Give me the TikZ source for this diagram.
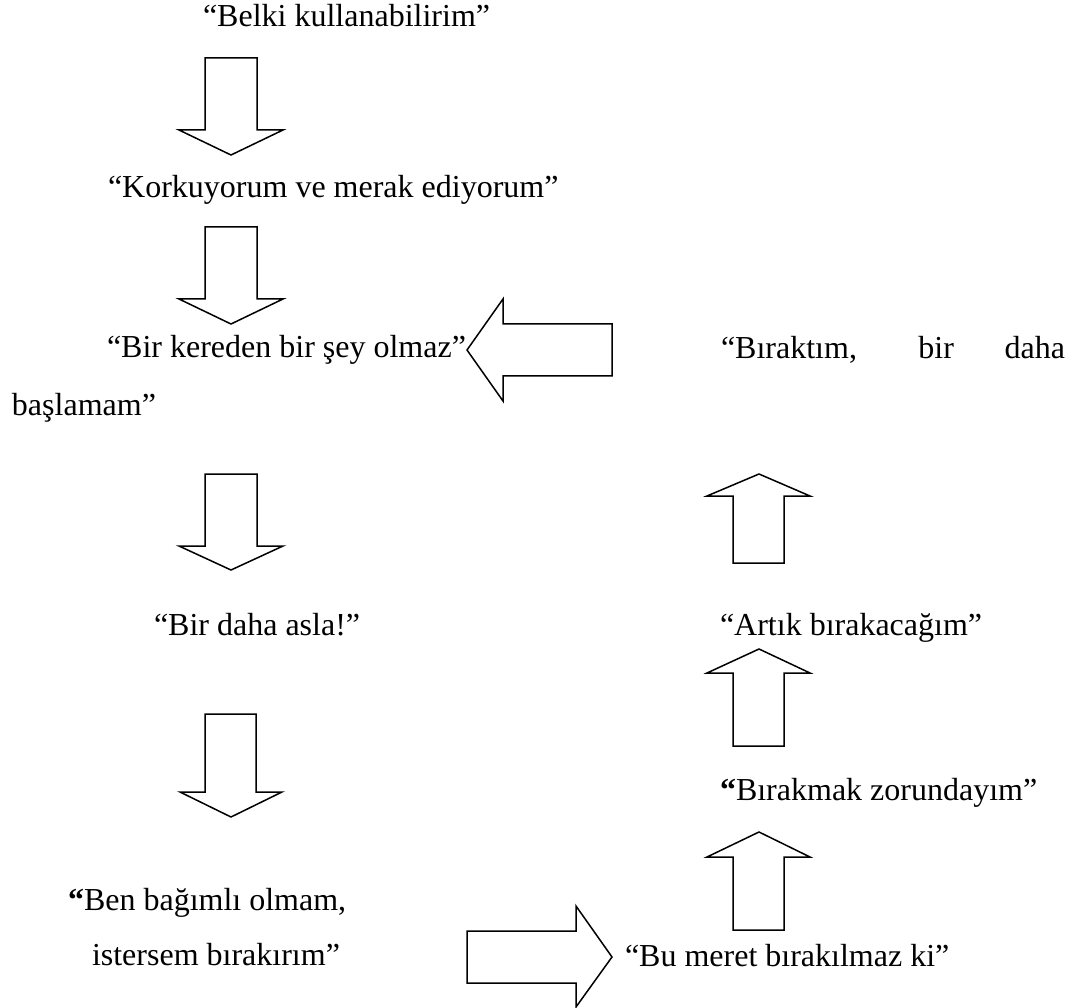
\documentclass[tikz,border=0pt]{standalone}
\usepackage{fontspec}
\setmainfont{Liberation Serif}
\begin{document}
\begin{tikzpicture}[x=1pt,y=-1pt,
  blk/.style={draw=black,line width=1.5pt,fill=white,line join=miter},
  txt/.style={anchor=base west,inner sep=0pt,outer sep=0pt,font=\fontsize{32}{38}\selectfont}]
\useasboundingbox[fill=white] (0,0) rectangle (1074,1008);
% texts
\node[txt] (t1) at (203,27) {“Belki kullanabilirim”};
\node[txt] (t2) at (108,198) {“Korkuyorum ve merak ediyorum”};
\node[txt] (t3) at (107,358) {“Bir kereden bir şey olmaz”};
\node[txt] (t4a) at (721,359) {\makebox[344pt][s]{“Bıraktım, bir daha}};
\node[txt] (t4b) at (12,415) {başlamam”};
\node[txt] (t5) at (154,635) {“Bir daha asla!”};
\node[txt] (t6) at (720,635) {“Artık bırakacağım”};
\node[txt] (t7) at (720,800) {\textbf{“}Bırakmak zorundayım”};
\node[txt] (t8a) at (68,910) {\textbf{“}Ben bağımlı olmam,};
\node[txt] (t8b) at (92,965) {istersem bırakırım”};
\node[txt] (t9) at (625,966) {“Bu meret bırakılmaz ki”};
% block arrows
\draw[blk] (205,58) -- (257,58) -- (257,130) -- (283,130) -- (231,155) -- (179,130) -- (205,130) -- cycle;
\draw[blk] (205,227) -- (257,227) -- (257,299) -- (283,299) -- (231,324) -- (179,299) -- (205,299) -- cycle;
\draw[blk] (612,324) -- (612,376) -- (503,376) -- (503,401) -- (467,350) -- (503,299) -- (503,324) -- cycle;
\draw[blk] (205,474) -- (257,474) -- (257,546) -- (283,546) -- (231,570) -- (179,546) -- (205,546) -- cycle;
\draw[blk] (205,714) -- (256,714) -- (256,792) -- (282,792) -- (231,817) -- (180,792) -- (205,792) -- cycle;
\draw[blk] (467,931) -- (576,931) -- (576,906) -- (612,957) -- (576,1007) -- (576,983) -- (467,983) -- cycle;
\draw[blk] (733,930) -- (784,930) -- (784,857) -- (810,857) -- (759,832) -- (707,857) -- (733,857) -- cycle;
\draw[blk] (733,746) -- (784,746) -- (784,673) -- (810,673) -- (759,649) -- (707,673) -- (733,673) -- cycle;
\draw[blk] (733,563) -- (784,563) -- (784,496) -- (810,496) -- (759,474) -- (707,496) -- (733,496) -- cycle;
\end{tikzpicture}
\end{document}
